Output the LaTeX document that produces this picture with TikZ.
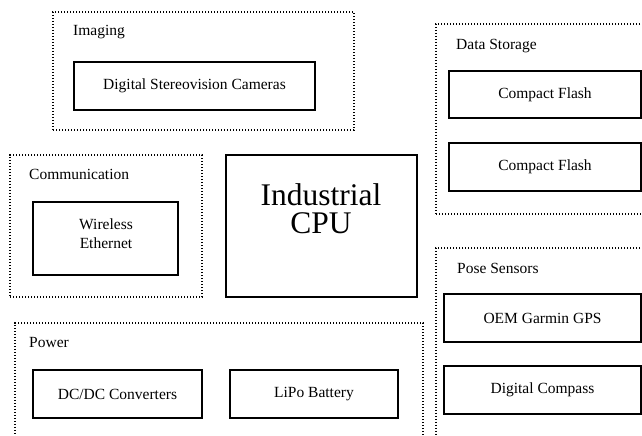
\documentclass[tikz,border=0pt]{standalone}
\usepackage{fontspec}
\setmainfont{Liberation Serif}
\begin{document}
\begin{tikzpicture}[x=1pt,y=-1pt,
  group/.style={draw, line width=1.1pt, dash pattern=on 1.1pt off 1.9pt, rectangle, inner sep=0pt},
  unit/.style={draw, line width=1.8pt, rectangle, inner sep=0pt, font=\fontsize{15.5}{18.5}\selectfont, align=center},
  glabel/.style={anchor=base west, inner sep=0pt, font=\fontsize{15.5}{18.5}\selectfont},
  btext/.style={anchor=north, inner sep=0pt, align=center},
  bigtext/.style={anchor=base, inner sep=0pt, font=\fontsize{31.5}{34}\selectfont}]
\useasboundingbox (0,0) rectangle (642,436);
\clip (0,0) rectangle (642,436);
% Imaging
\node[group, minimum width=301pt, minimum height=118pt] (imaging) at (203.5,71) {};
\node[glabel] (imaginglbl) at (73,36) {Imaging};
\node[unit, minimum width=241pt, minimum height=48pt] (cam) at (194.5,86) {Digital Stereovision Cameras};
% Data Storage
\node[group, minimum width=244pt, minimum height=190pt] (storage) at (558,119) {};
\node[glabel] (storagelbl) at (456,50) {Data Storage};
\node[unit, minimum width=192pt, minimum height=47pt] (cf1) at (545,94.5) {Compact Flash};
\node[unit, minimum width=192pt, minimum height=48pt] (cf2) at (545,167) {Compact Flash};
% Communication
\node[group, minimum width=192pt, minimum height=142pt] (comm) at (106,226) {};
\node[glabel] (commlbl) at (29,179) {Communication};
\node[unit, minimum width=145pt, minimum height=73pt] (wl) at (105.5,238.5) {};
\node[btext, font=\fontsize{15.5}{19}\selectfont] (wltext) at (106,218.5) {Wireless\\Ethernet};
% CPU
\node[unit, minimum width=191pt, minimum height=142pt] (cpu) at (321.5,226) {};
\node[bigtext] (cputext1) at (321,205) {Industrial};
\node[bigtext] (cputext2) at (321,233) {CPU};
% Pose Sensors
\node[group, minimum width=244pt, minimum height=232pt] (pose) at (558,364) {};
\node[glabel] (poselbl) at (457,273) {Pose Sensors};
\node[unit, minimum width=197pt, minimum height=48pt] (gps) at (542.5,318) {OEM Garmin GPS};
\node[unit, minimum width=197pt, minimum height=48pt] (compass) at (542.5,390) {Digital Compass};
% Power
\node[group, minimum width=408pt, minimum height=157pt] (power) at (219,401.5) {};
\node[glabel] (powerlbl) at (29,347) {Power};
\node[unit, minimum width=169pt, minimum height=48pt] (dcdc) at (117.5,394) {DC/DC Converters};
\node[unit, minimum width=168pt, minimum height=48pt] (lipo) at (314,394) {LiPo Battery};
\end{tikzpicture}
\end{document}
